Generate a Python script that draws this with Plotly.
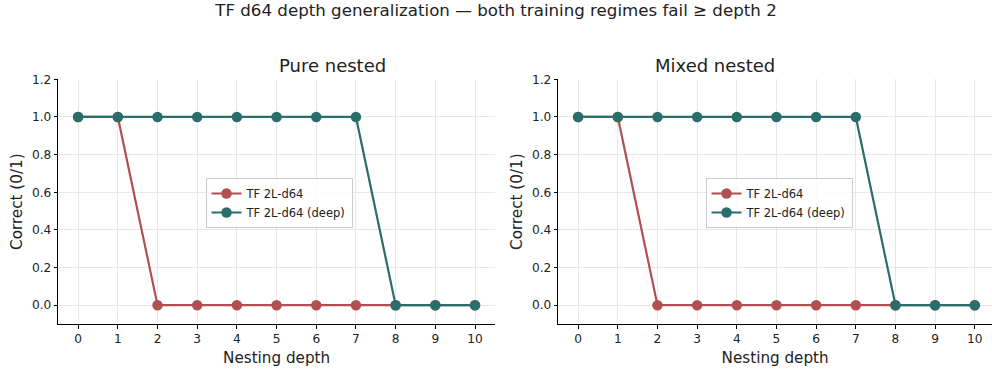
import plotly.graph_objects as go

depths = list(range(11))
pure_tf = [1, 1, 0, 0, 0, 0, 0, 0, 0, 0, 0]
pure_deep = [1, 1, 1, 1, 1, 1, 1, 1, 0, 0, 0]
mixed_tf = [1, 1, 0, 0, 0, 0, 0, 0, 0, 0, 0]
mixed_deep = [1, 1, 1, 1, 1, 1, 1, 1, 0, 0, 0]
yticks = [0.0, 0.2, 0.4, 0.6, 0.8, 1.0, 1.2]

RED = "#b05050"
TEAL = "#2a6e6c"
FONT = "DejaVu Sans"
W, H = 992, 369

fig = go.Figure()

def add(x, y, name, color, xa, ya, legend):
    fig.add_trace(go.Scatter(x=x, y=y, name=name, mode="lines+markers",
                             line=dict(color=color, width=2.2),
                             marker=dict(color=color, size=10.5),
                             xaxis=xa, yaxis=ya, legend=legend))

add(depths, pure_tf, "TF 2L-d64", RED, "x", "y", "legend")
add(depths, pure_deep, "TF 2L-d64 (deep)", TEAL, "x", "y", "legend")
add(depths, mixed_tf, "TF 2L-d64", RED, "x2", "y2", "legend2")
add(depths, mixed_deep, "TF 2L-d64 (deep)", TEAL, "x2", "y2", "legend2")

axis_common = dict(showline=True, linecolor="black", linewidth=1.1, ticks="outside",
                   ticklen=3.5, tickcolor="black", tickwidth=1, showgrid=True,
                   gridcolor="#e8e8e8", gridwidth=1, zeroline=False, mirror=False,
                   automargin=False,
                   tickfont=dict(family=FONT, size=12.2, color="#222"))

xcommon = dict(axis_common, tickvals=depths,
               title=dict(text="Nesting depth", font=dict(family=FONT, size=15.2, color="#222"), standoff=7))
ycommon = dict(axis_common, range=[-0.1, 1.2], tickvals=yticks, tickformat=".1f",
               title=dict(text="Correct (0/1)", font=dict(family=FONT, size=15.2, color="#222"), standoff=5))

legend_common = dict(bgcolor="rgba(255,255,255,0.8)", bordercolor="#cccccc", borderwidth=1,
                     font=dict(family=FONT, size=11.5, color="#222"), yanchor="top", xanchor="left",
                     tracegroupgap=0, itemwidth=30)

ydom = [45 / H, 1 - 79.3 / H]

fig.update_layout(
    width=W, height=H,
    margin=dict(l=0, r=0, t=0, b=0, autoexpand=False),
    plot_bgcolor="white", paper_bgcolor="white",
    font=dict(family=FONT, color="#222"),
    xaxis=dict(xcommon, domain=[58.3 / W, 494.85 / W], range=[-0.5, 10.5], anchor="y"),
    yaxis=dict(ycommon, domain=ydom, anchor="x"),
    xaxis2=dict(xcommon, domain=[558.3 / W, 1], range=[-0.5, (W - 578.3) / 39.65], anchor="y2"),
    yaxis2=dict(ycommon, domain=ydom, anchor="x2"),
    legend=dict(legend_common, x=205.5 / W, y=1 - 178 / H),
    legend2=dict(legend_common, x=705.5 / W, y=1 - 178 / H),
    title=dict(text="TF d64 depth generalization — both training regimes fail ≥ depth 2",
               x=0.5, xref="paper", xanchor="center", y=1 - 10 / H, yref="container", yanchor="middle",
               font=dict(family=FONT, size=16.67, color="#222")),
    annotations=[
        dict(text="Pure nested", x=276.6 / W, xref="paper", y=ydom[1], yref="paper", yanchor="bottom",
             yshift=1, showarrow=False, font=dict(family=FONT, size=18, color="#222")),
        dict(text="Mixed nested", x=776.6 / W, xref="paper", y=ydom[1], yref="paper", yanchor="bottom",
             yshift=1, showarrow=False, font=dict(family=FONT, size=18, color="#222")),
    ],
)

fig.write_html("out.html")
